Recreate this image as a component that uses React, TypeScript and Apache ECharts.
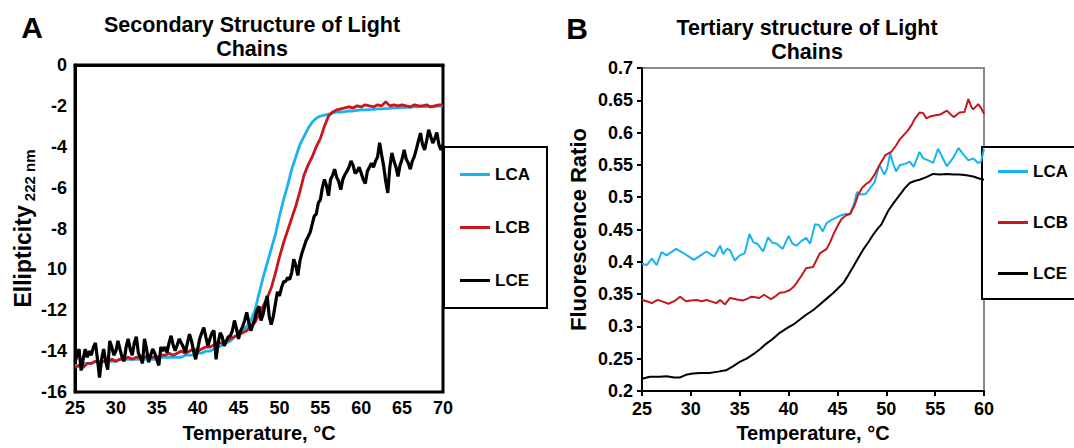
import React, { useEffect, useRef } from "react";
import * as echarts from "echarts";

const FONT = "'Liberation Sans', Arial, Helvetica, sans-serif";
const seriesNames = ["LCA", "LCB", "LCE"];
const seriesColors = ["#1AB2EF", "#C8161D", "#000000"];

// Panel A: temperature grids (°C)
const tempsA: number[] = Array.from({ length: 91 }, (_, i) => 25 + i * 0.5); // every 0.5 °C
const tempsFineA: number[] = Array.from({ length: 181 }, (_, i) => 25 + i * 0.25); // every 0.25 °C

const lcaEllipticity = [
  -14.7, -14.7, -14.6, -14.6, -14.6, -14.5, -14.5, -14.5, -14.5, -14.5,
  -14.5, -14.4, -14.4, -14.4, -14.4, -14.4, -14.4, -14.4, -14.4, -14.4,
  -14.4, -14.3, -14.3, -14.3, -14.3, -14.3, -14.3, -14.2, -14.2, -14.2,
  -14.1, -14.1, -14.0, -14.0, -13.9, -13.8, -13.7, -13.6, -13.5, -13.3,
  -13.2, -13.0, -12.8, -12.5, -12.0, -11.2, -10.4, -9.7, -9.0, -8.3,
  -7.4, -6.6, -5.9, -5.1, -4.5, -3.9, -3.5, -3.1, -2.8, -2.6,
  -2.5, -2.45, -2.4, -2.35, -2.3, -2.3, -2.28, -2.25, -2.25, -2.22,
  -2.2, -2.2, -2.18, -2.17, -2.15, -2.15, -2.13, -2.12, -2.1, -2.1,
  -2.08, -2.07, -2.06, -2.05, -2.05, -2.04, -2.03, -2.03, -2.02, -2.01,
  -2.0,
];

const lcbEllipticity = [
  -14.8, -14.7, -14.8, -14.6, -14.6, -14.5, -14.6, -14.5, -14.5, -14.4,
  -14.5, -14.4, -14.4, -14.3, -14.4, -14.3, -14.3, -14.3, -14.2, -14.3,
  -14.3, -14.2, -14.2, -14.1, -14.2, -14.1, -14.0, -14.1, -14.0, -13.9,
  -14.0, -13.9, -13.8, -13.8, -13.7, -13.6, -13.6, -13.5, -13.4, -13.3,
  -13.2, -13.1, -13.0, -12.8, -12.6, -12.2, -11.8, -11.4, -10.9, -10.2,
  -9.4, -8.7, -8.1, -7.5, -6.9, -6.2, -5.4, -4.9, -4.5, -4.0,
  -3.6, -3.0, -2.5, -2.3, -2.2, -2.15, -2.1, -2.05, -2.1, -2.0,
  -2.05, -1.95, -2.0, -2.05, -1.95, -2.0, -1.8, -2.0, -1.95, -2.0,
  -1.95, -2.0, -2.05, -1.95, -2.0, -2.0, -1.95, -2.05, -2.0, -1.95,
  -1.95,
];

// LCE, every 0.25 °C (one row = 5 °C)
const lceEllipticity = [
  -14.55, -14.2, -13.9, -14.95, -14.4, -13.9, -14.3, -14.0, -14.2, -13.8, -13.6, -14.4, -15.3, -14.4, -13.9, -14.5, -14.9, -13.5, -13.8, -14.2,
  -14.0, -13.5, -13.9, -14.3, -14.5, -13.8, -13.4, -13.9, -14.2, -13.6, -13.3, -14.1, -14.3, -14.6, -13.4, -13.9, -14.55, -14.2, -13.9, -14.1,
  -14.4, -14.7, -13.8, -14.0, -13.8, -14.06, -13.6, -13.25, -13.7, -13.98, -13.7, -13.4, -13.6, -13.8, -14.06, -13.6, -13.17, -13.5, -14.0, -14.4,
  -13.9, -13.4, -13.1, -12.85, -13.3, -13.74, -13.4, -13.1, -13.0, -14.4, -13.6, -13.1, -13.3, -13.74, -13.5, -13.3, -13.25, -13.0, -12.5, -12.9,
  -13.4, -13.0, -12.8, -12.5, -12.1, -12.6, -13.0, -12.7, -12.4, -12.0, -11.8, -12.5, -12.2, -11.7, -11.3, -12.3, -12.7, -12.3, -11.7, -11.1,
  -11.3, -10.9, -10.6, -10.6, -10.4, -10.5, -10.15, -9.5, -9.8, -10.3, -9.6, -9.2, -8.9, -8.6, -8.4, -8.2, -7.8, -7.4, -7.3, -6.75,
  -6.6, -6.0, -5.6, -5.9, -6.4, -5.6, -5.4, -5.1, -5.5, -5.7, -6.1, -5.6, -5.37, -5.2, -5.0, -4.7, -4.9, -5.3, -5.2, -5.0,
  -5.3, -5.6, -5.8, -5.2, -5.0, -4.8, -5.0, -4.7, -4.5, -3.8, -4.4, -4.96, -5.7, -6.26, -5.0, -4.3, -4.7, -5.0, -5.45, -4.9,
  -4.6, -4.15, -4.6, -4.8, -5.1, -4.7, -4.47, -4.1, -3.7, -3.33, -3.9, -4.15, -3.7, -3.17, -3.5, -3.82, -3.6, -3.3, -3.9, -4.15,
  -3.9,
];

const yTickLabelsA = ["-16", "-14", "-12", "10", "-8", "-6", "-4", "-2", "0"];

// Panel B: [temperature °C, fluorescence ratio]
const lcaFluorescence: [number, number][] = [
  [25, 0.397], [25.5, 0.395], [26, 0.405], [26.5, 0.395], [27, 0.415], [27.5, 0.41], [28, 0.415],
  [28.5, 0.42], [29.2, 0.414], [29.8, 0.408], [30.3, 0.403], [31, 0.41], [31.6, 0.416], [32, 0.412],
  [32.4, 0.408], [33, 0.425], [33.3, 0.412], [33.7, 0.42], [34, 0.418], [34.5, 0.402], [35, 0.41],
  [35.5, 0.413], [36, 0.443], [36.4, 0.43], [36.8, 0.428], [37.4, 0.416], [37.9, 0.438], [38.3, 0.43],
  [38.8, 0.428], [39.4, 0.42], [40, 0.44], [40.4, 0.428], [40.8, 0.425], [41.3, 0.432], [41.8, 0.437],
  [42.2, 0.428], [42.7, 0.458], [43.1, 0.457], [43.5, 0.447], [43.9, 0.46], [44.4, 0.465], [45.2, 0.471],
  [45.8, 0.474], [46.3, 0.474], [46.7, 0.49], [47, 0.508], [47.4, 0.504], [47.9, 0.505], [48.4, 0.515],
  [48.8, 0.523], [49.3, 0.55], [49.8, 0.535], [50.1, 0.545], [50.4, 0.568], [50.7, 0.552], [51, 0.54],
  [51.4, 0.55], [52, 0.552], [52.4, 0.555], [52.8, 0.547], [53.4, 0.57], [53.8, 0.56], [54.3, 0.557],
  [54.8, 0.553], [55.3, 0.575], [55.8, 0.56], [56.2, 0.548], [56.8, 0.56], [57.4, 0.576], [57.9, 0.566],
  [58.4, 0.557], [58.9, 0.56], [59.4, 0.553], [59.7, 0.555], [60, 0.575],
];

const lcbFluorescence: [number, number][] = [
  [25, 0.341], [25.5, 0.339], [26, 0.336], [26.6, 0.341], [27.2, 0.338], [27.7, 0.335], [28.3, 0.339],
  [28.9, 0.346], [29.5, 0.339], [30, 0.34], [30.6, 0.341], [31.1, 0.339], [31.6, 0.341], [32.2, 0.338],
  [32.6, 0.336], [33, 0.341], [33.5, 0.334], [34, 0.344], [34.6, 0.342], [35.3, 0.34], [35.8, 0.343],
  [36.2, 0.346], [36.6, 0.345], [37, 0.344], [37.5, 0.349], [38.2, 0.342], [38.6, 0.346], [39.1, 0.352],
  [39.6, 0.353], [40.1, 0.356], [40.5, 0.361], [40.8, 0.367], [41.3, 0.378], [41.8, 0.39], [42.5, 0.392],
  [42.9, 0.404], [43.2, 0.413], [43.9, 0.42], [44.3, 0.432], [44.6, 0.443], [45, 0.455], [45.4, 0.466],
  [45.9, 0.472], [46.3, 0.474], [46.8, 0.489], [47.1, 0.503], [47.5, 0.514], [47.9, 0.52], [48.3, 0.524],
  [48.8, 0.535], [49.2, 0.547], [49.9, 0.565], [50.5, 0.57], [51, 0.58], [51.4, 0.59], [52.2, 0.603],
  [52.6, 0.612], [52.9, 0.621], [53.4, 0.631], [53.8, 0.63], [54.1, 0.622], [54.5, 0.625], [54.8, 0.626],
  [55.5, 0.628], [56.2, 0.634], [56.6, 0.628], [56.9, 0.624], [57.5, 0.631], [58, 0.632], [58.4, 0.652],
  [58.7, 0.64], [58.9, 0.636], [59.4, 0.644], [59.7, 0.638], [60, 0.629],
];

const lceFluorescence: [number, number][] = [
  [25, 0.219], [25.8, 0.222], [26.8, 0.222], [27.5, 0.223], [28.3, 0.221], [28.9, 0.221], [29.5, 0.225],
  [30.2, 0.227], [31, 0.228], [31.9, 0.228], [32.8, 0.23], [33.6, 0.232], [34.3, 0.238], [35, 0.245],
  [35.7, 0.25], [36.4, 0.257], [37.1, 0.265], [37.7, 0.273], [38.4, 0.281], [39.1, 0.29], [39.8, 0.297],
  [40.5, 0.303], [41.2, 0.311], [41.8, 0.318], [42.5, 0.325], [43.2, 0.334], [43.9, 0.343], [44.6, 0.352],
  [45.2, 0.361], [45.6, 0.367], [46.1, 0.379], [46.6, 0.392], [47.1, 0.405], [47.6, 0.418], [48.2, 0.431],
  [48.7, 0.443], [49.1, 0.451], [49.5, 0.458], [50.2, 0.479], [50.8, 0.492], [51.4, 0.504], [51.9, 0.514],
  [52.4, 0.522], [52.9, 0.525], [53.4, 0.527], [54.1, 0.531], [54.8, 0.536], [55.5, 0.535], [56.2, 0.536],
  [56.9, 0.535], [57.5, 0.535], [58.2, 0.534], [58.9, 0.532], [59.5, 0.529], [60, 0.527],
];

const titleA = ["Secondary Structure of Light", "Chains"];
const titleB = ["Tertiary structure of Light", "Chains"];
const xAxisName = "Temperature, °C";

export default function App() {
  const ref = useRef<HTMLDivElement>(null);

  useEffect(() => {
    if (!ref.current) return;
    const chart = echarts.init(ref.current, undefined, { renderer: "svg" });

    const tickLabel = { fontFamily: FONT, fontWeight: "bold" as const, fontSize: 18, color: "#000" };
    const axisNameStyle = { fontFamily: FONT, fontWeight: "bold" as const, fontSize: 20, color: "#000" };

    const xGridsA = [tempsA, tempsA, tempsFineA];
    const seriesA = [lcaEllipticity, lcbEllipticity, lceEllipticity].map((vals, i) => ({
      name: seriesNames[i],
      type: "line",
      xAxisIndex: 0,
      yAxisIndex: 0,
      showSymbol: false,
      data: vals.map((v, j) => [xGridsA[i][j], v]),
      lineStyle: { color: seriesColors[i], width: i === 2 ? 3.2 : 2.8 },
      itemStyle: { color: seriesColors[i] },
      z: 3 + i,
    }));
    const seriesB = [lcaFluorescence, lcbFluorescence, lceFluorescence].map((vals, i) => ({
      name: seriesNames[i],
      type: "line",
      xAxisIndex: 1,
      yAxisIndex: 1,
      showSymbol: false,
      data: vals,
      lineStyle: { color: seriesColors[i], width: 2 },
      itemStyle: { color: seriesColors[i] },
      z: 3 + i,
    }));

    const legendCommon = {
      orient: "vertical" as const,
      data: seriesNames,
      icon: "rect",
      itemWidth: 30,
      itemHeight: 3,
      padding: 0,
      selectedMode: false,
      textStyle: { fontFamily: FONT, fontWeight: "bold" as const, fontSize: 17, color: "#000" },
    };

    const textEl = (text: string, x: number, y: number, size: number, align = "center") => ({
      type: "text",
      x,
      y,
      z: 10,
      style: {
        text,
        fill: "#000",
        font: `bold ${size}px ${FONT}`,
        align,
        verticalAlign: "middle",
      },
    });

    chart.setOption({
      animation: false,
      backgroundColor: "#fff",
      grid: [
        { left: 75, top: 65, width: 368, height: 328, show: true, borderColor: "#000", borderWidth: 3, backgroundColor: "transparent" },
        { left: 642, top: 68, width: 342, height: 328, show: true, borderColor: "#8a8a8a", borderWidth: 2, backgroundColor: "transparent" },
      ],
      xAxis: [
        {
          type: "value", gridIndex: 0, min: 25, max: 70, interval: 5,
          name: xAxisName, nameLocation: "middle", nameGap: 31, nameTextStyle: axisNameStyle,
          axisLine: { show: true, lineStyle: { color: "#000", width: 3 } },
          axisTick: { show: false },
          axisLabel: { ...tickLabel, margin: 7 },
          splitLine: { show: false },
        },
        {
          type: "value", gridIndex: 1, min: 25, max: 60, interval: 5,
          name: xAxisName, nameLocation: "middle", nameGap: 32, nameTextStyle: axisNameStyle,
          axisLine: { show: true, lineStyle: { color: "#000", width: 2 } },
          axisTick: { show: true, length: 5, lineStyle: { color: "#000", width: 2 } },
          axisLabel: { ...tickLabel, margin: 9 },
          splitLine: { show: false },
        },
      ],
      yAxis: [
        {
          type: "value", gridIndex: 0, min: -16, max: 0, interval: 2,
          name: "{a|Ellipticity}{b| 222 nm}", nameLocation: "middle", nameGap: 40,
          nameTextStyle: {
            rich: {
              a: { fontFamily: FONT, fontWeight: "bold", fontSize: 23, color: "#000" },
              b: { fontFamily: FONT, fontWeight: "bold", fontSize: 15, color: "#000", verticalAlign: "bottom", padding: [0, 0, -3, 0] },
            },
          },
          axisLine: { show: true, lineStyle: { color: "#000", width: 3 } },
          axisTick: { show: false },
          axisLabel: { ...tickLabel, margin: 8, formatter: (v: number) => yTickLabelsA[Math.round((v + 16) / 2)] ?? String(v) },
          splitLine: { show: false },
        },
        {
          type: "value", gridIndex: 1, min: 0.2, max: 0.7, interval: 0.05,
          name: "Fluorescence Ratio", nameLocation: "middle", nameGap: 53,
          nameTextStyle: { fontFamily: FONT, fontWeight: "bold", fontSize: 22, color: "#000" },
          axisLine: { show: true, lineStyle: { color: "#000", width: 2 } },
          axisTick: { show: true, length: 5, lineStyle: { color: "#000", width: 2 } },
          axisLabel: { ...tickLabel, margin: 9, formatter: (v: number) => String(parseFloat(v.toFixed(2))) },
          splitLine: { show: false },
        },
      ],
      legend: [
        { ...legendCommon, left: 460, top: 166, itemGap: 36 },
        { ...legendCommon, left: 998, top: 163, itemGap: 34 },
      ],
      graphic: [
        { type: "rect", z: 1, shape: { x: 444, y: 147, width: 103, height: 161 }, style: { fill: "#fff", stroke: "#000", lineWidth: 2 } },
        { type: "rect", z: 1, shape: { x: 982, y: 147, width: 120, height: 152 }, style: { fill: "#fff", stroke: "#000", lineWidth: 2 } },
        textEl("A", 32, 27, 30),
        textEl(titleA[0], 252, 25, 21.5),
        textEl(titleA[1], 252, 49, 21.5),
        textEl("B", 577, 28, 30),
        textEl(titleB[0], 807, 28, 21.5),
        textEl(titleB[1], 807, 52, 21.5),
      ],
      series: [...seriesA, ...seriesB],
    });

    return () => chart.dispose();
  }, []);

  return <div ref={ref} style={{ position: "absolute", left: 0, top: 0, width: 1074, height: 448 }} />;
}
